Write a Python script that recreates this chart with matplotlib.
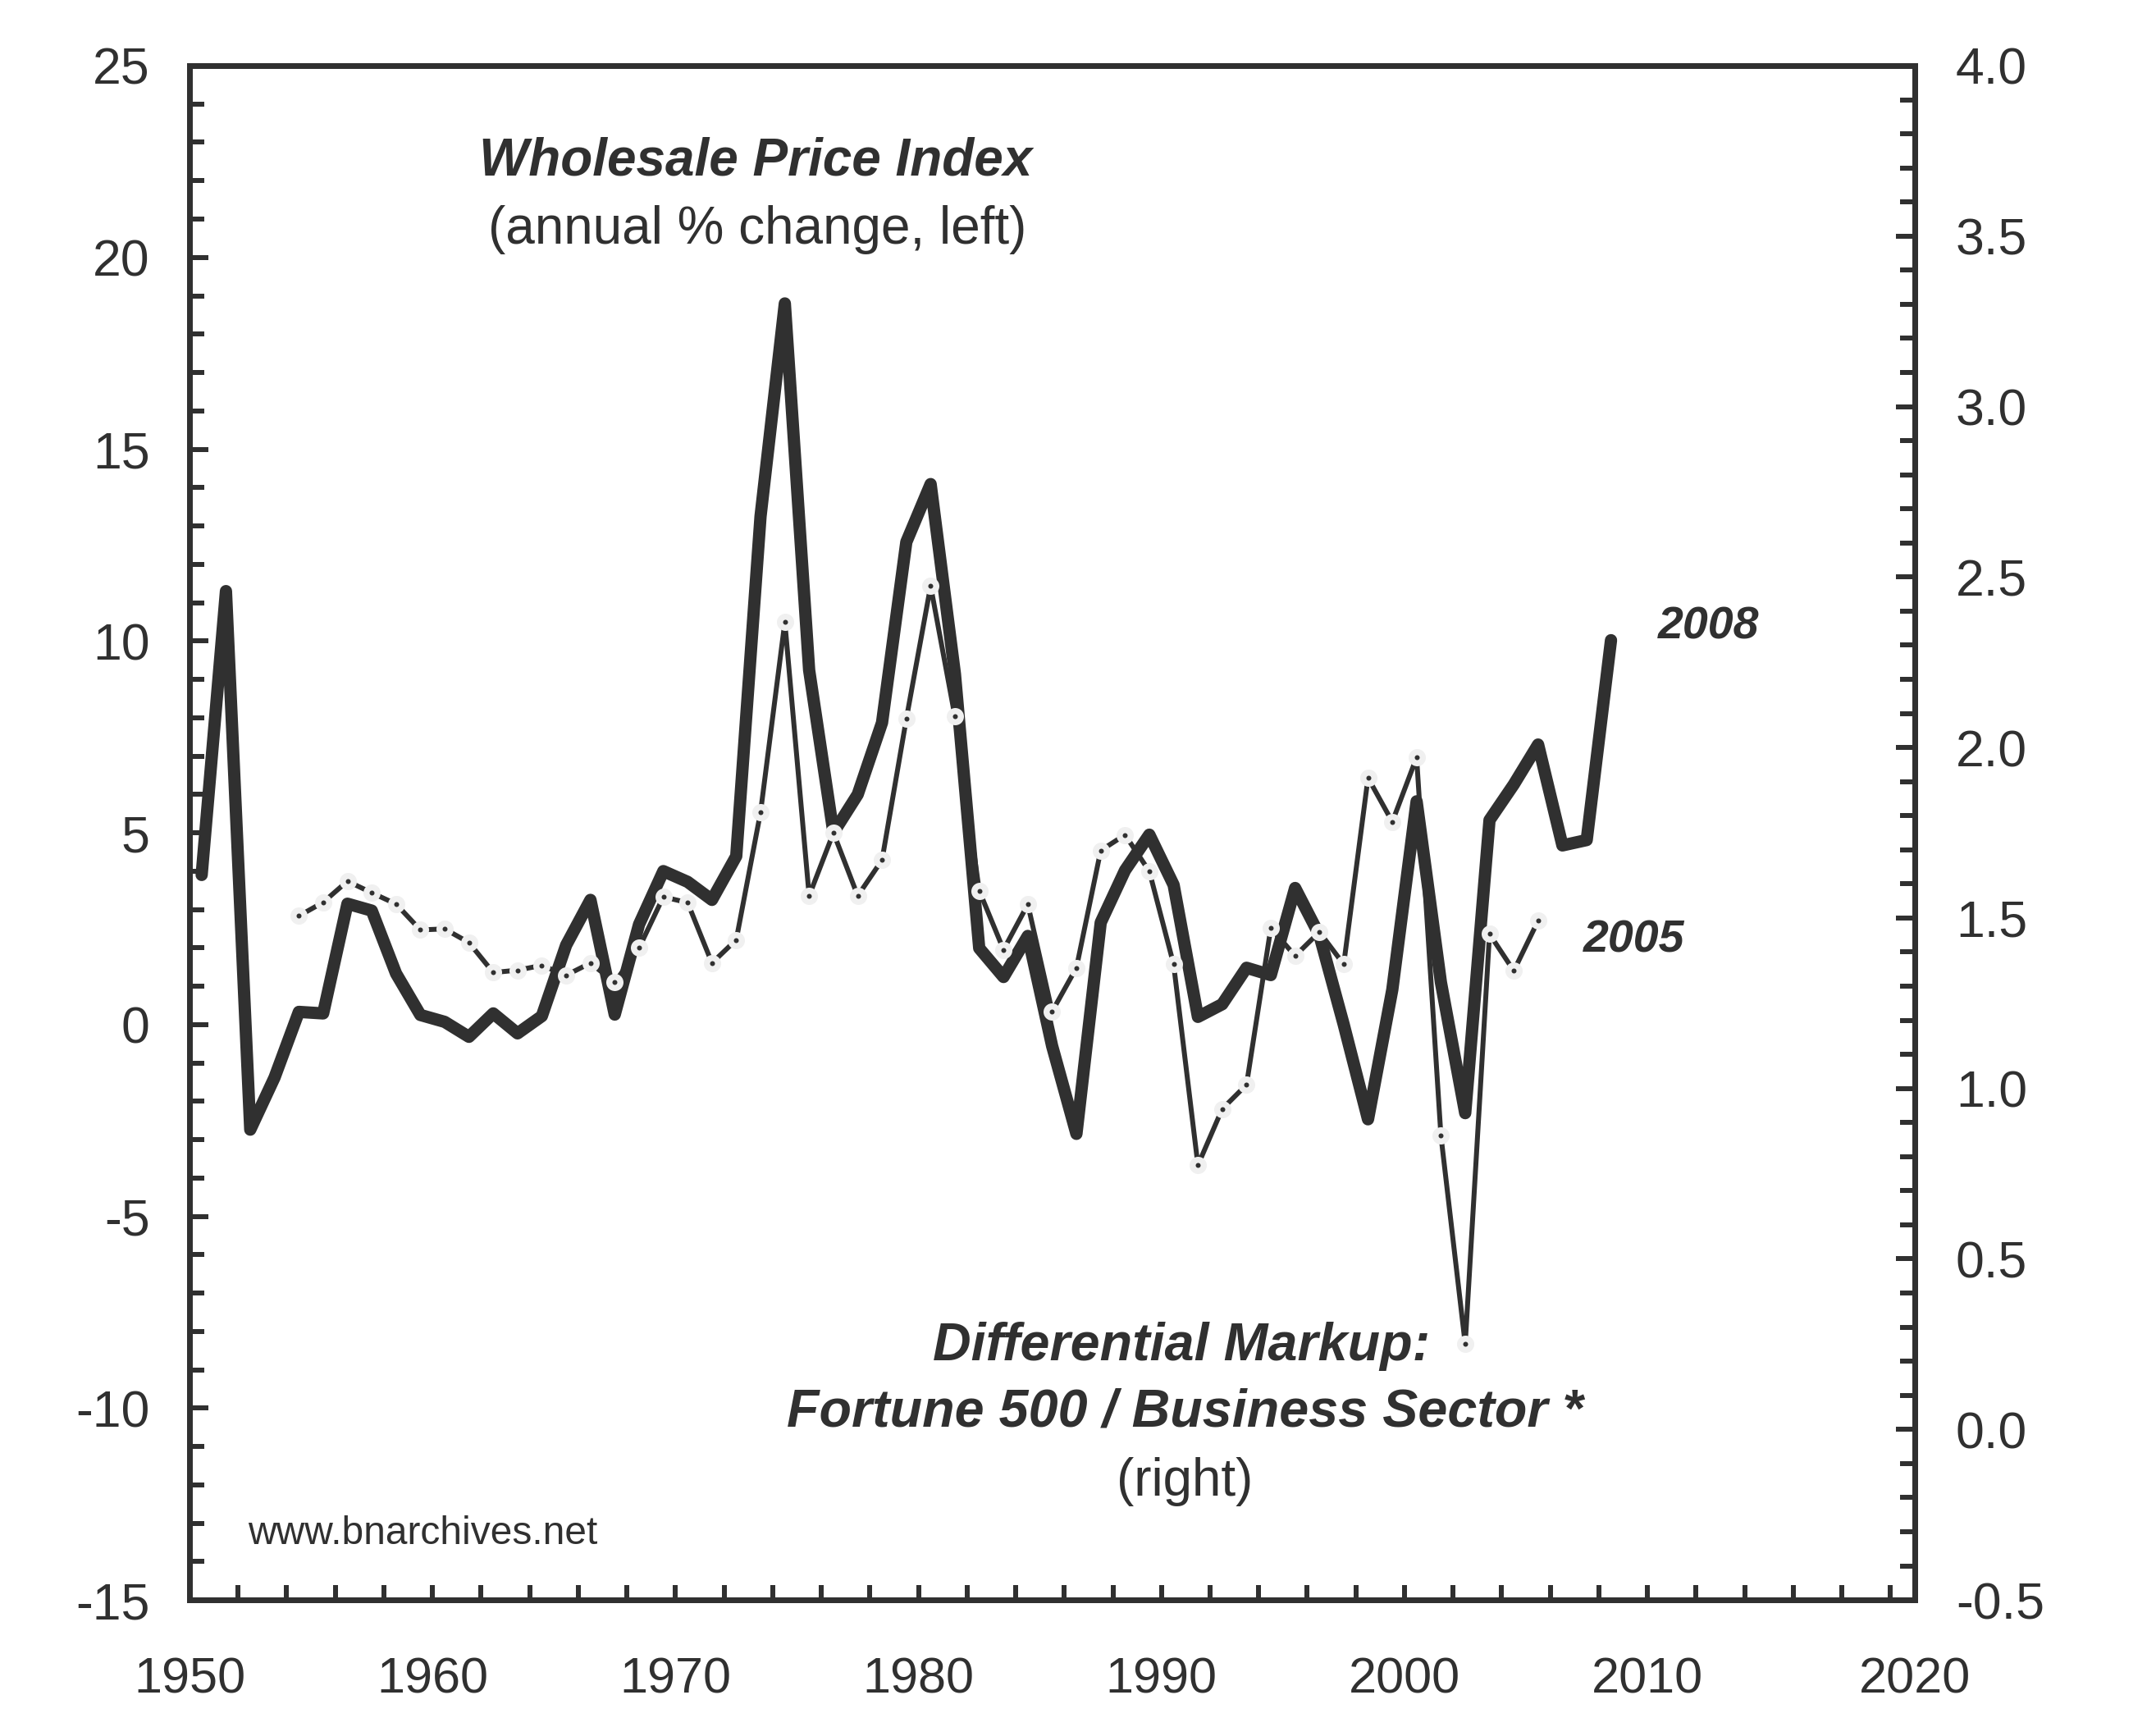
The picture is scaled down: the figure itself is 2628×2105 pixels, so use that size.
import matplotlib
matplotlib.use('Agg')
import matplotlib.pyplot as plt
import numpy as np
from matplotlib.ticker import MultipleLocator, FormatStrFormatter

plt.rcParams['font.family'] = ['Liberation Sans', 'DejaVu Sans']
plt.rcParams['axes.unicode_minus'] = False

# wholesale price index, annual % change (left axis)
wpi_years = list(range(1950, 2009))
wpi_change = [3.9, 11.3, -2.74, -1.38, 0.33, 0.29, 3.15, 2.97, 1.33, 0.25,
              0.07, -0.32, 0.29, -0.23, 0.22, 2.07, 3.25, 0.26, 2.61, 4.0,
              3.72, 3.25, 4.39, 13.25, 18.8, 9.24, 5.0, 6.0, 7.87, 12.58,
              14.09, 9.14, 1.99, 1.24, 2.31, -0.56, -2.85, 2.66, 4.02, 4.95,
              3.64, 0.20, 0.53, 1.48, 1.29, 3.56, 2.33, 0.0, -2.47, 0.91,
              5.82, 1.1, -2.31, 5.33, 6.26, 7.30, 4.67, 4.81, 10.02]

# differential markup: Fortune 500 / business sector (right axis)
dm_years = list(range(1954, 2006))
dm_ratio = [1.506, 1.546, 1.608, 1.574, 1.541, 1.465, 1.468, 1.428, 1.340, 1.347,
            1.361, 1.332, 1.368, 1.311, 1.412, 1.562, 1.545, 1.368, 1.436, 1.81,
            2.368, 1.565, 1.75, 1.565, 1.67, 2.084, 2.474, 2.091, 1.58, 1.407,
            1.54, 1.226, 1.354, 1.698, 1.744, 1.637, 1.364, 0.775, 0.940, 1.011,
            1.471, 1.389, 1.459, 1.364, 1.911, 1.782, 1.971, 0.862, 0.250, 1.453,
            1.345, 1.492]

# x tick labels (the last one sits at the right end of the axis)
xtick_pos = [1950, 1960, 1970, 1980, 1990, 2000, 2010, 2021]
xtick_labels = ['1950', '1960', '1970', '1980', '1990', '2000', '2010', '2020']

dark = '#303030'
halo = '#f0f0f0'
PT = 0.72  # pixels -> points at dpi 100

fig = plt.figure(figsize=(26.28, 21.05), dpi=100)
ax = fig.add_axes([0.0879, 0.0736, 0.8002, 0.8884])
ax2 = ax.twinx()

# annual values plotted at mid-year
ax.plot(np.array(wpi_years) + 0.5, wpi_change, color=dark, lw=15 * PT,
        solid_joinstyle='round', solid_capstyle='round', zorder=3)

xm = np.array(dm_years) + 0.5
ax2.plot(xm, dm_ratio, color=dark, lw=6 * PT, solid_joinstyle='round', zorder=3)
ax2.plot(xm, dm_ratio, 'o', ms=21 * PT, mfc=halo, mec='none', zorder=4)
ax2.plot(xm, dm_ratio, 'o', ms=6 * PT, mfc=dark, mec='none', zorder=5)

ax.set_xlim(1950, 2021)
ax.set_ylim(-15, 25)
ax2.set_ylim(-0.5, 4.0)

ax.set_xticks(xtick_pos, xtick_labels)
ax.xaxis.set_minor_locator(MultipleLocator(2))
ax.yaxis.set_major_locator(MultipleLocator(5))
ax.yaxis.set_minor_locator(MultipleLocator(1))
ax2.yaxis.set_major_locator(MultipleLocator(0.5))
ax2.yaxis.set_minor_locator(MultipleLocator(0.1))
ax2.yaxis.set_major_formatter(FormatStrFormatter('%.1f'))

for a in (ax, ax2):
    for s in a.spines.values():
        s.set_linewidth(7 * PT)
        s.set_color(dark)
        s.set_capstyle('projecting')

ax.tick_params(axis='x', which='both', direction='in', length=18 * PT, width=6 * PT,
               color=dark, labelsize=44, labelcolor=dark, pad=50, top=False)
ax.tick_params(axis='y', which='major', direction='in', length=23 * PT, width=6 * PT,
               color=dark, labelsize=45, labelcolor=dark, pad=35, right=False)
ax.tick_params(axis='y', which='minor', direction='in', length=18 * PT, width=6 * PT,
               color=dark, right=False)
ax2.tick_params(axis='y', which='major', direction='in', length=23 * PT, width=6 * PT,
                color=dark, labelsize=45, labelcolor=dark, pad=36)
ax2.tick_params(axis='y', which='minor', direction='in', length=18 * PT, width=6 * PT,
                color=dark)

# annotations
fig.text(0.3505, 0.8988, 'Wholesale Price Index', fontsize=46, fontweight='bold',
         fontstyle='italic', color=dark, ha='center', va='baseline')
fig.text(0.3512, 0.8589, '(annual % change, left)', fontsize=46, color=dark,
         ha='center', va='baseline')
fig.text(0.548, 0.2124, 'Differential Markup:', fontsize=46.5, fontweight='bold',
         fontstyle='italic', color=dark, ha='center', va='baseline')
fig.text(0.5495, 0.1743, 'Fortune 500 / Business Sector *', fontsize=46.5, fontweight='bold',
         fontstyle='italic', color=dark, ha='center', va='baseline')
fig.text(0.5495, 0.134, '(right)', fontsize=46, color=dark, ha='center', va='baseline')
fig.text(0.1149, 0.1059, 'www.bnarchives.net', fontsize=34.5, color=dark,
         ha='left', va='baseline')
fig.text(0.769, 0.6304, '2008', fontsize=40, fontweight='bold', fontstyle='italic',
         color=dark, ha='left', va='baseline')
fig.text(0.7344, 0.4485, '2005', fontsize=40, fontweight='bold', fontstyle='italic',
         color=dark, ha='left', va='baseline')

fig.savefig('out.png', dpi=100, facecolor='white')
